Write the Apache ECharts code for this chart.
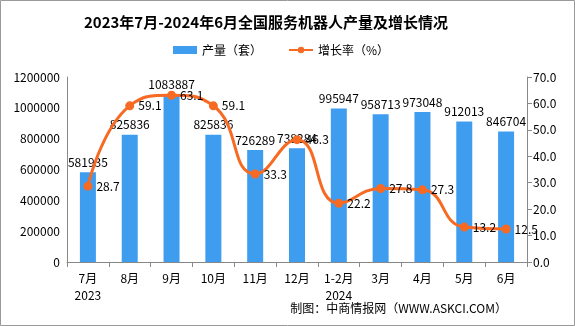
<!DOCTYPE html>
<html><head><meta charset="utf-8">
<script src="https://cdn.jsdelivr.net/npm/echarts@6/dist/echarts.min.js"></script>
<style>html,body{margin:0;padding:0;background:#fff}#c{width:575px;height:326px}</style>
</head><body><div id="c"></div>
<script>
const categories = ['7月\n2023','8月','9月','10月','11月','12月','1-2月\n2024','3月','4月','5月','6月'];
const production = [581935, 825836, 1083887, 825836, 726289, 738284, 995947, 958713, 973048, 912013, 846704];
const growth = [28.7, 59.1, 63.1, 59.1, 33.3, 46.3, 22.2, 27.8, 27.3, 13.2, 12.5];
const leftTicks = {min: 0, max: 1200000, interval: 200000};
const rightTicks = {min: 0, max: 70, interval: 10};

const font = '"Noto Sans CJK SC", "DejaVu Sans", sans-serif';
const chart = echarts.init(document.getElementById('c'));
chart.setOption({
  animation: false,
  textStyle: {fontFamily: font},
  title: {
    text: '2023年7月-2024年6月全国服务机器人产量及增长情况',
    left: 261, top: 10, textAlign: 'center',
    textStyle: {fontSize: 15, fontWeight: 'bold', color: '#000', fontFamily: font}
  },
  legend: {
    top: 39, left: 168, itemGap: 26, itemWidth: 24, itemHeight: 8,
    textStyle: {fontSize: 12, color: '#000'},
    data: [{name: '产量（套）', icon: 'rect'}, {name: '增长率（%）'}]
  },
  grid: {left: 67, right: 48, top: 77, bottom: 64},
  xAxis: {
    type: 'category', data: categories,
    axisLine: {lineStyle: {color: '#888'}},
    axisTick: {show: true, lineStyle: {color: '#888'}, length: 5},
    axisLabel: {color: '#000', fontSize: 12, lineHeight: 17, margin: 8}
  },
  yAxis: [{
    type: 'value', min: leftTicks.min, max: leftTicks.max, interval: leftTicks.interval,
    splitLine: {show: false},
    axisLine: {show: true, lineStyle: {color: '#888'}},
    axisTick: {show: false},
    axisLabel: {color: '#000', fontSize: 12, margin: 7, formatter: v => String(v)}
  }, {
    type: 'value', min: rightTicks.min, max: rightTicks.max, interval: rightTicks.interval,
    splitLine: {show: false},
    axisLine: {show: true, lineStyle: {color: '#888'}},
    axisTick: {show: true, length: 5, lineStyle: {color: '#888'}},
    axisLabel: {color: '#000', fontSize: 12, margin: 6, formatter: v => v.toFixed(1)}
  }],
  series: [{
    name: '产量（套）', type: 'bar', data: production, barWidth: 16,
    itemStyle: {color: '#3F9DF0'},
    label: {show: true, position: 'top', color: '#000', fontSize: 12, distance: 4}
  }, {
    name: '增长率（%）', type: 'line', yAxisIndex: 1, data: growth, smooth: true,
    symbol: 'circle', symbolSize: 9, z: 3,
    lineStyle: {color: '#F76A24', width: 3},
    itemStyle: {color: '#F76A24'},
    label: {show: true, position: 'right', color: '#000', fontSize: 12, distance: 4,
      formatter: p => p.value.toFixed(1)}
  }],
  graphic: [{
    type: 'rect', shape: {x: 0.5, y: 0.5, width: 574, height: 325},
    style: {fill: 'none', stroke: '#999', lineWidth: 1}, silent: true
  }, {
    type: 'text', right: 68, top: 302,
    style: {text: '制图：中商情报网（WWW.ASKCI.COM）', fill: '#000', font: '12px ' + font}
  }]
});
</script></body></html>
